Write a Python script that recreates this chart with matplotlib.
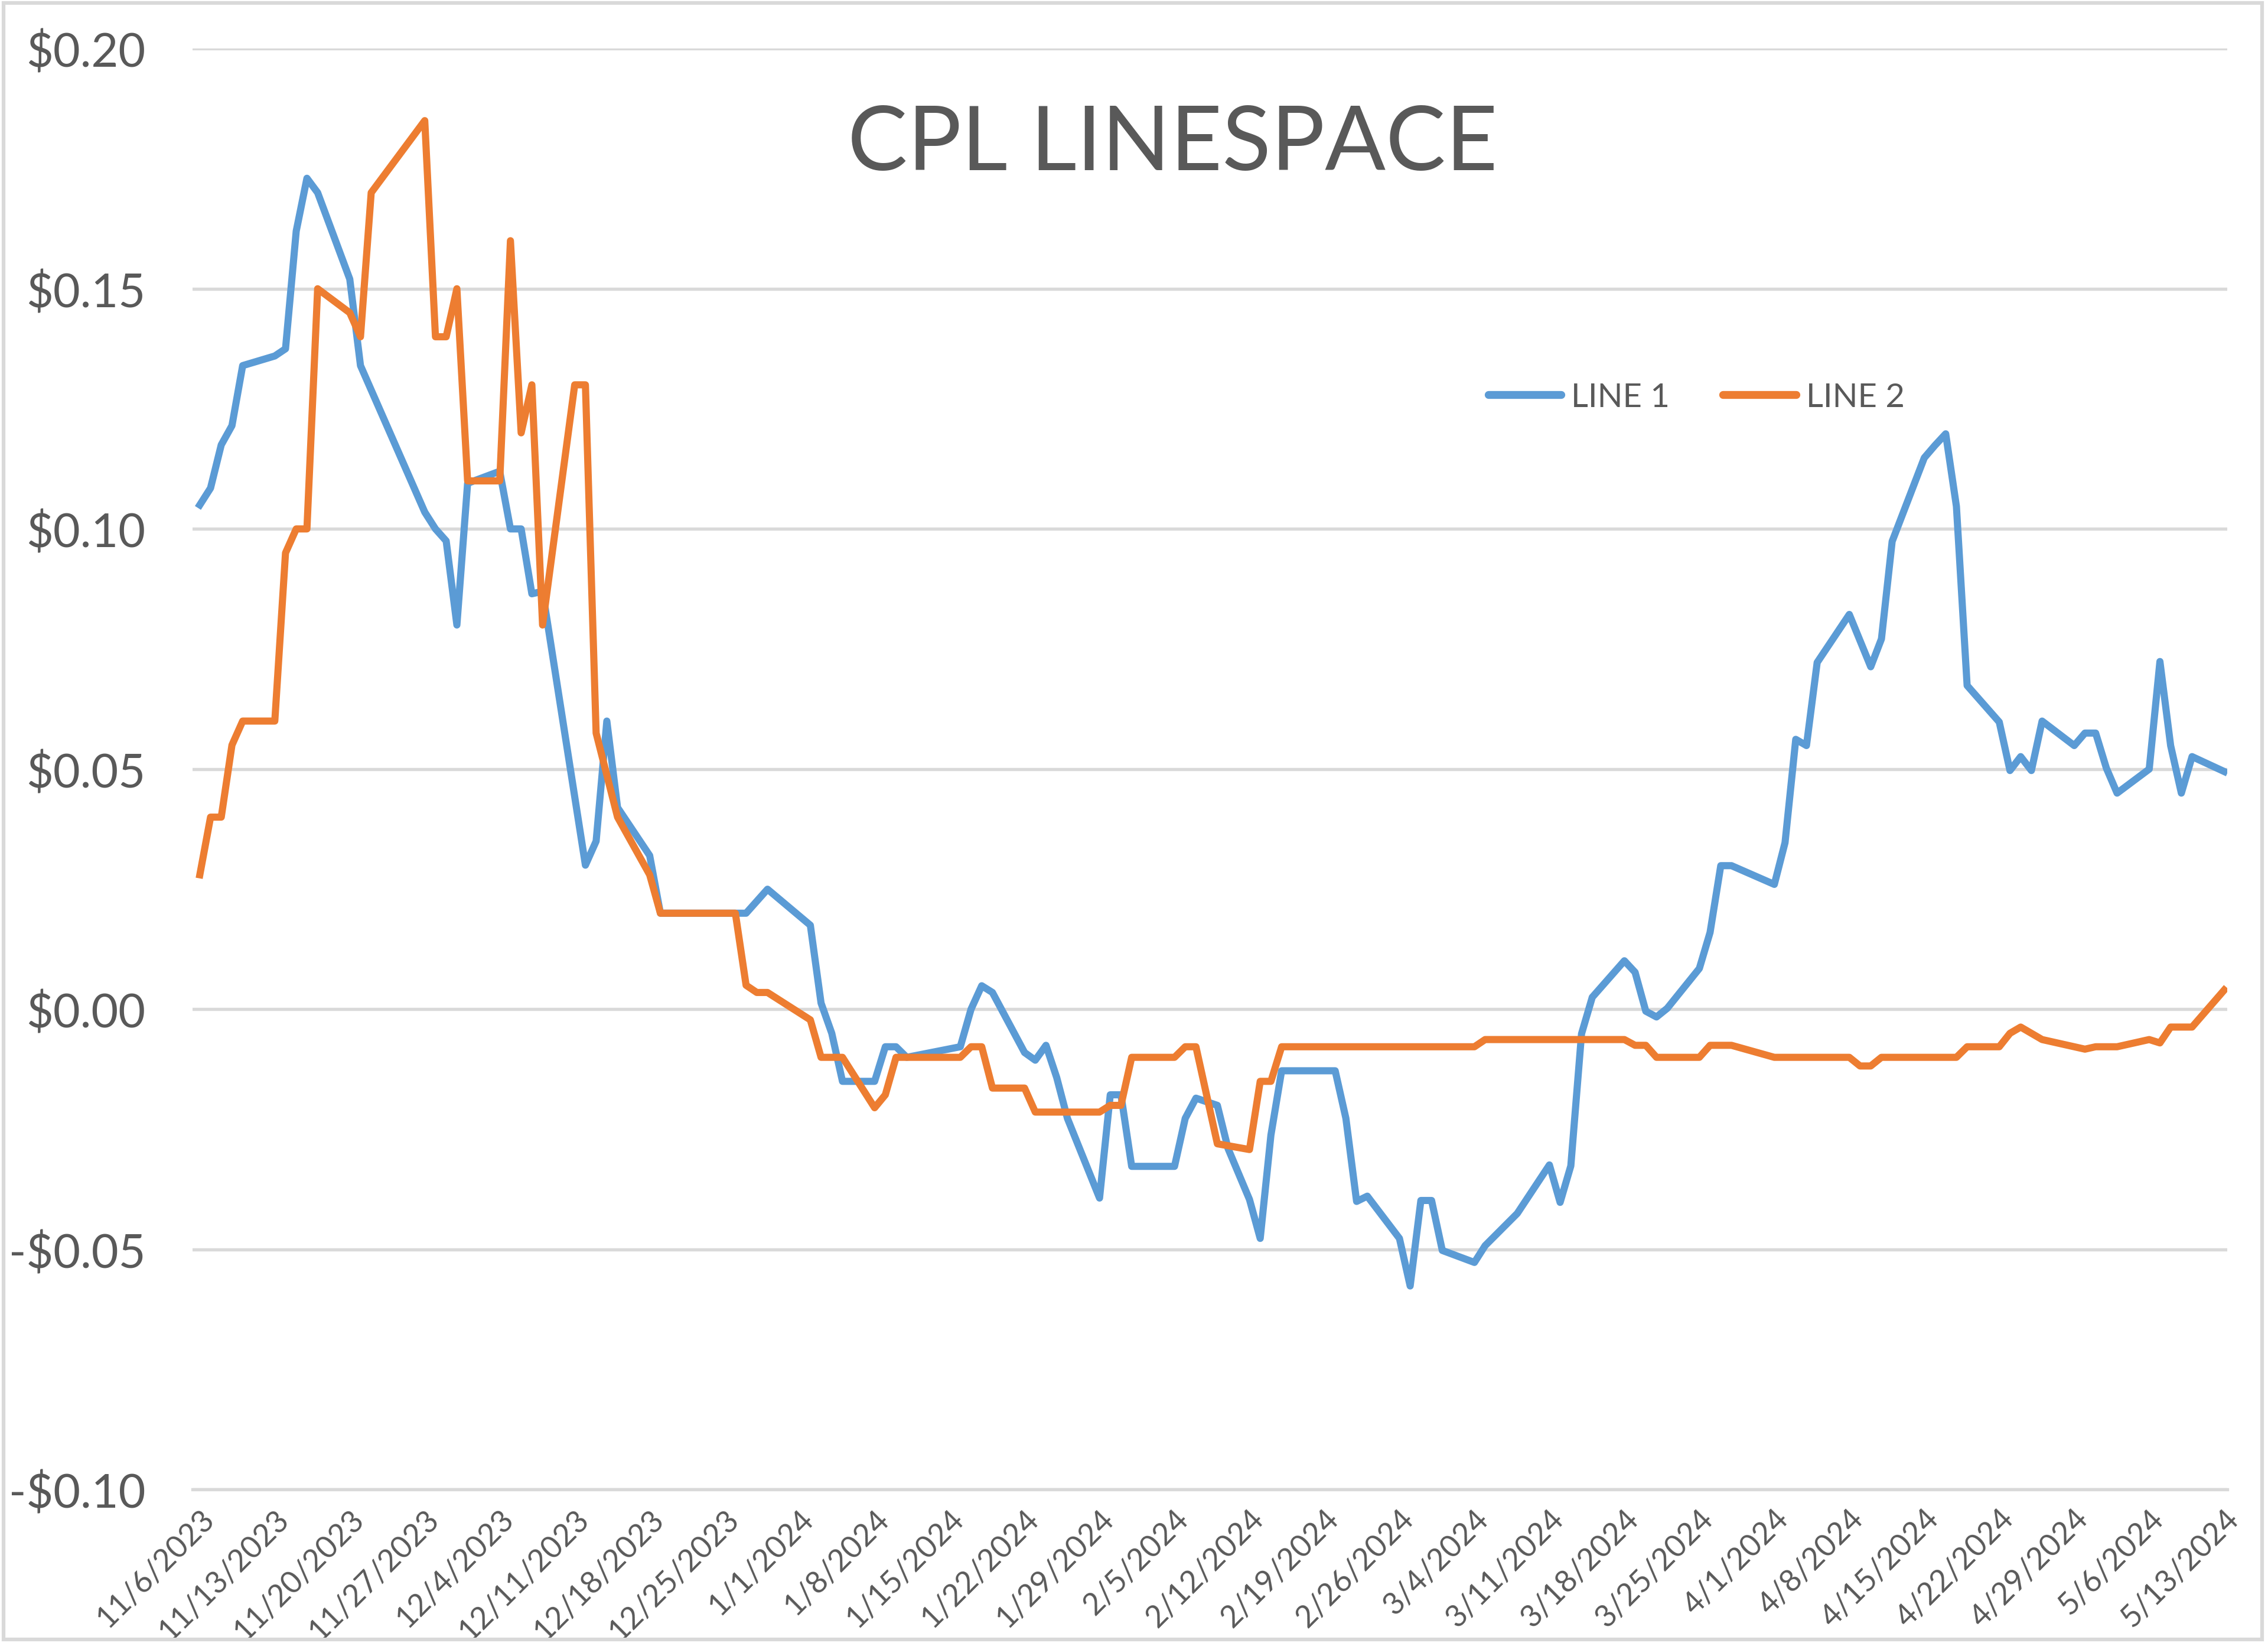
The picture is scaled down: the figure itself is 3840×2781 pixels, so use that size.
import matplotlib
matplotlib.use("Agg")
import matplotlib.pyplot as plt
import matplotlib.patches as mpatches
import pandas as pd

plt.rcParams["font.family"] = ["Lato", "DejaVu Sans"]

START = pd.Timestamp("2023-11-06")

# day offsets from 11/6/2023 and values
line1_days = [0, 1, 2, 3, 4, 7, 8, 9, 10, 11, 14, 15, 21, 22, 23, 24, 25, 28, 29, 30,
              31, 32, 36, 37, 38, 39, 42, 43, 51, 52, 53, 57, 58, 59, 60, 63, 64, 65, 66, 71,
              72, 73, 74, 77, 78, 79, 80, 81, 84, 85, 86, 87, 91, 92, 93, 95, 96, 98, 99, 100,
              101, 106, 107, 108, 109, 112, 113, 114, 115, 116, 119, 120, 123, 126, 127, 128, 129, 130, 133, 134,
              135, 136, 137, 140, 141, 142, 143, 147, 148, 149, 150, 151, 154, 156, 157, 158, 161, 162, 163, 164,
              165, 168, 169, 170, 171, 172, 175, 176, 177, 178, 179, 182, 183, 184, 185, 186, 189]
line1_values = [0.105, 0.1085, 0.1175, 0.1215, 0.134, 0.136, 0.1375, 0.162, 0.173, 0.170,
                0.152, 0.134, 0.1035, 0.100, 0.0975, 0.080, 0.1095, 0.112, 0.100, 0.100,
                0.0865, 0.087, 0.030, 0.035, 0.060, 0.042, 0.032, 0.020, 0.020, 0.0225,
                0.025, 0.0175, 0.0013, -0.005, -0.015, -0.015, -0.0078, -0.0078, -0.010, -0.0078,
                0.000, 0.0049, 0.0035, -0.009, -0.0106, -0.0075, -0.0142, -0.0227, -0.0393, -0.0178,
                -0.0178, -0.0327, -0.0327, -0.0227, -0.0185, -0.020, -0.029, -0.0396, -0.0477, -0.0262,
                -0.0128, -0.0128, -0.0227, -0.040, -0.0389, -0.0477, -0.0576, -0.0398, -0.0398, -0.0502,
                -0.0527, -0.0492, -0.0425, -0.0324, -0.0402, -0.0326, -0.0051, 0.0025, 0.0101, 0.0077,
                -0.0004, -0.0016, 0.0002, 0.0085, 0.016, 0.0299, 0.0299, 0.026, 0.0347, 0.0562,
                0.0549, 0.0722, 0.0822, 0.0713, 0.0771, 0.0974, 0.1148, 0.1174, 0.1198, 0.1047,
                0.0674, 0.0598, 0.0497, 0.0526, 0.0497, 0.060, 0.0549, 0.0575, 0.0575, 0.0502,
                0.045, 0.050, 0.0724, 0.0549, 0.045, 0.0526, 0.0495]

line2_days = [0, 1, 2, 3, 4, 7, 8, 9, 10, 11, 14, 15, 16, 21, 22, 23, 24, 25, 28, 29,
              30, 31, 32, 35, 36, 37, 39, 42, 43, 50, 51, 52, 53, 57, 58, 60, 63, 64, 65, 71,
              72, 73, 74, 77, 78, 84, 85, 86, 87, 91, 92, 93, 95, 98, 99, 100, 101, 119, 120, 133,
              134, 135, 136, 140, 141, 143, 147, 154, 155, 156, 157, 164, 165, 168, 169, 170, 172, 176, 177, 179,
              182, 183, 184, 186, 189]
line2_values = [0.028, 0.040, 0.040, 0.055, 0.060, 0.060, 0.095, 0.100, 0.100, 0.150,
                0.145, 0.140, 0.170, 0.185, 0.140, 0.140, 0.150, 0.110, 0.110, 0.160,
                0.120, 0.130, 0.080, 0.130, 0.130, 0.0575, 0.040, 0.028, 0.020, 0.020,
                0.005, 0.0035, 0.0035, -0.0022, -0.010, -0.010, -0.0205, -0.0178, -0.010, -0.010,
                -0.0078, -0.0078, -0.0164, -0.0164, -0.0214, -0.0214, -0.020, -0.020, -0.010, -0.010,
                -0.0078, -0.0078, -0.028, -0.0292, -0.015, -0.015, -0.0078, -0.0078, -0.0063, -0.0063,
                -0.0075, -0.0075, -0.010, -0.010, -0.0075, -0.0075, -0.010, -0.010, -0.0118, -0.0118,
                -0.010, -0.010, -0.0078, -0.0078, -0.005, -0.0037, -0.0063, -0.0083, -0.0078, -0.0078,
                -0.0063, -0.007, -0.0037, -0.0037, 0.004]

y_ticks = [-0.10, -0.05, 0.00, 0.05, 0.10, 0.15, 0.20]
y_labels = ["-$0.10", "-$0.05", "$0.00", "$0.05", "$0.10", "$0.15", "$0.20"]
tick_dates = pd.date_range("2023-11-06", "2024-05-13", freq="7D")

BLUE = "#5B9BD5"
ORANGE = "#ED7D31"
GRID = "#D9D9D9"
TEXT = "#595959"

x1 = START + pd.to_timedelta(line1_days, unit="D")
x2 = START + pd.to_timedelta(line2_days, unit="D")

fig = plt.figure(figsize=(12.8, 9.2733), dpi=300)
ax = fig.add_axes([0.0848, 0.0933, 0.8973, 0.8768])

ax.plot(x1, line1_values, color=BLUE, lw=2.9, label="LINE 1", solid_joinstyle="round")
ax.plot(x2, line2_values, color=ORANGE, lw=2.9, label="LINE 2", solid_joinstyle="round")

ax.set_ylim(-0.10, 0.20)
ax.set_xlim(START - pd.Timedelta(days=0.7), tick_dates[-1] + pd.Timedelta(days=0.3))
ax.set_yticks(y_ticks)
ax.set_yticklabels(y_labels, fontsize=19, color=TEXT)
ax.set_xticks(tick_dates)
ax.set_xticklabels([f"{d.month}/{d.day}/{d.year}" for d in tick_dates],
                   rotation=45, ha="right", rotation_mode="anchor", fontsize=12.5, color=TEXT)
ax.tick_params(axis="y", length=0, pad=19)
ax.tick_params(axis="x", length=0, pad=6)
ax.grid(True, axis="y", color=GRID, lw=1.3)
ax.set_axisbelow(True)
for side in ["top", "right", "left"]:
    ax.spines[side].set_visible(False)
ax.spines["bottom"].set_color(GRID)
ax.spines["bottom"].set_linewidth(1.3)

fig.text(0.517, 0.912, "CPL LINESPACE", ha="center", va="center", fontsize=36.5, color=TEXT)

leg = ax.legend(loc="center", bbox_to_anchor=(0.748, 0.758), bbox_transform=fig.transFigure,
                ncols=2, frameon=False, fontsize=13.5, labelcolor=TEXT, handlelength=2.2,
                handletextpad=0.3, columnspacing=1.6)
for h in leg.get_lines():
    h.set_linewidth(3.2)
    h.set_solid_capstyle("round")

fig.patches.append(mpatches.Rectangle((0.0015, 0.002), 0.996, 0.996, transform=fig.transFigure,
                                      fill=False, edgecolor=GRID, lw=1.5))

fig.savefig("out.png", dpi=300)
plt.close(fig)
